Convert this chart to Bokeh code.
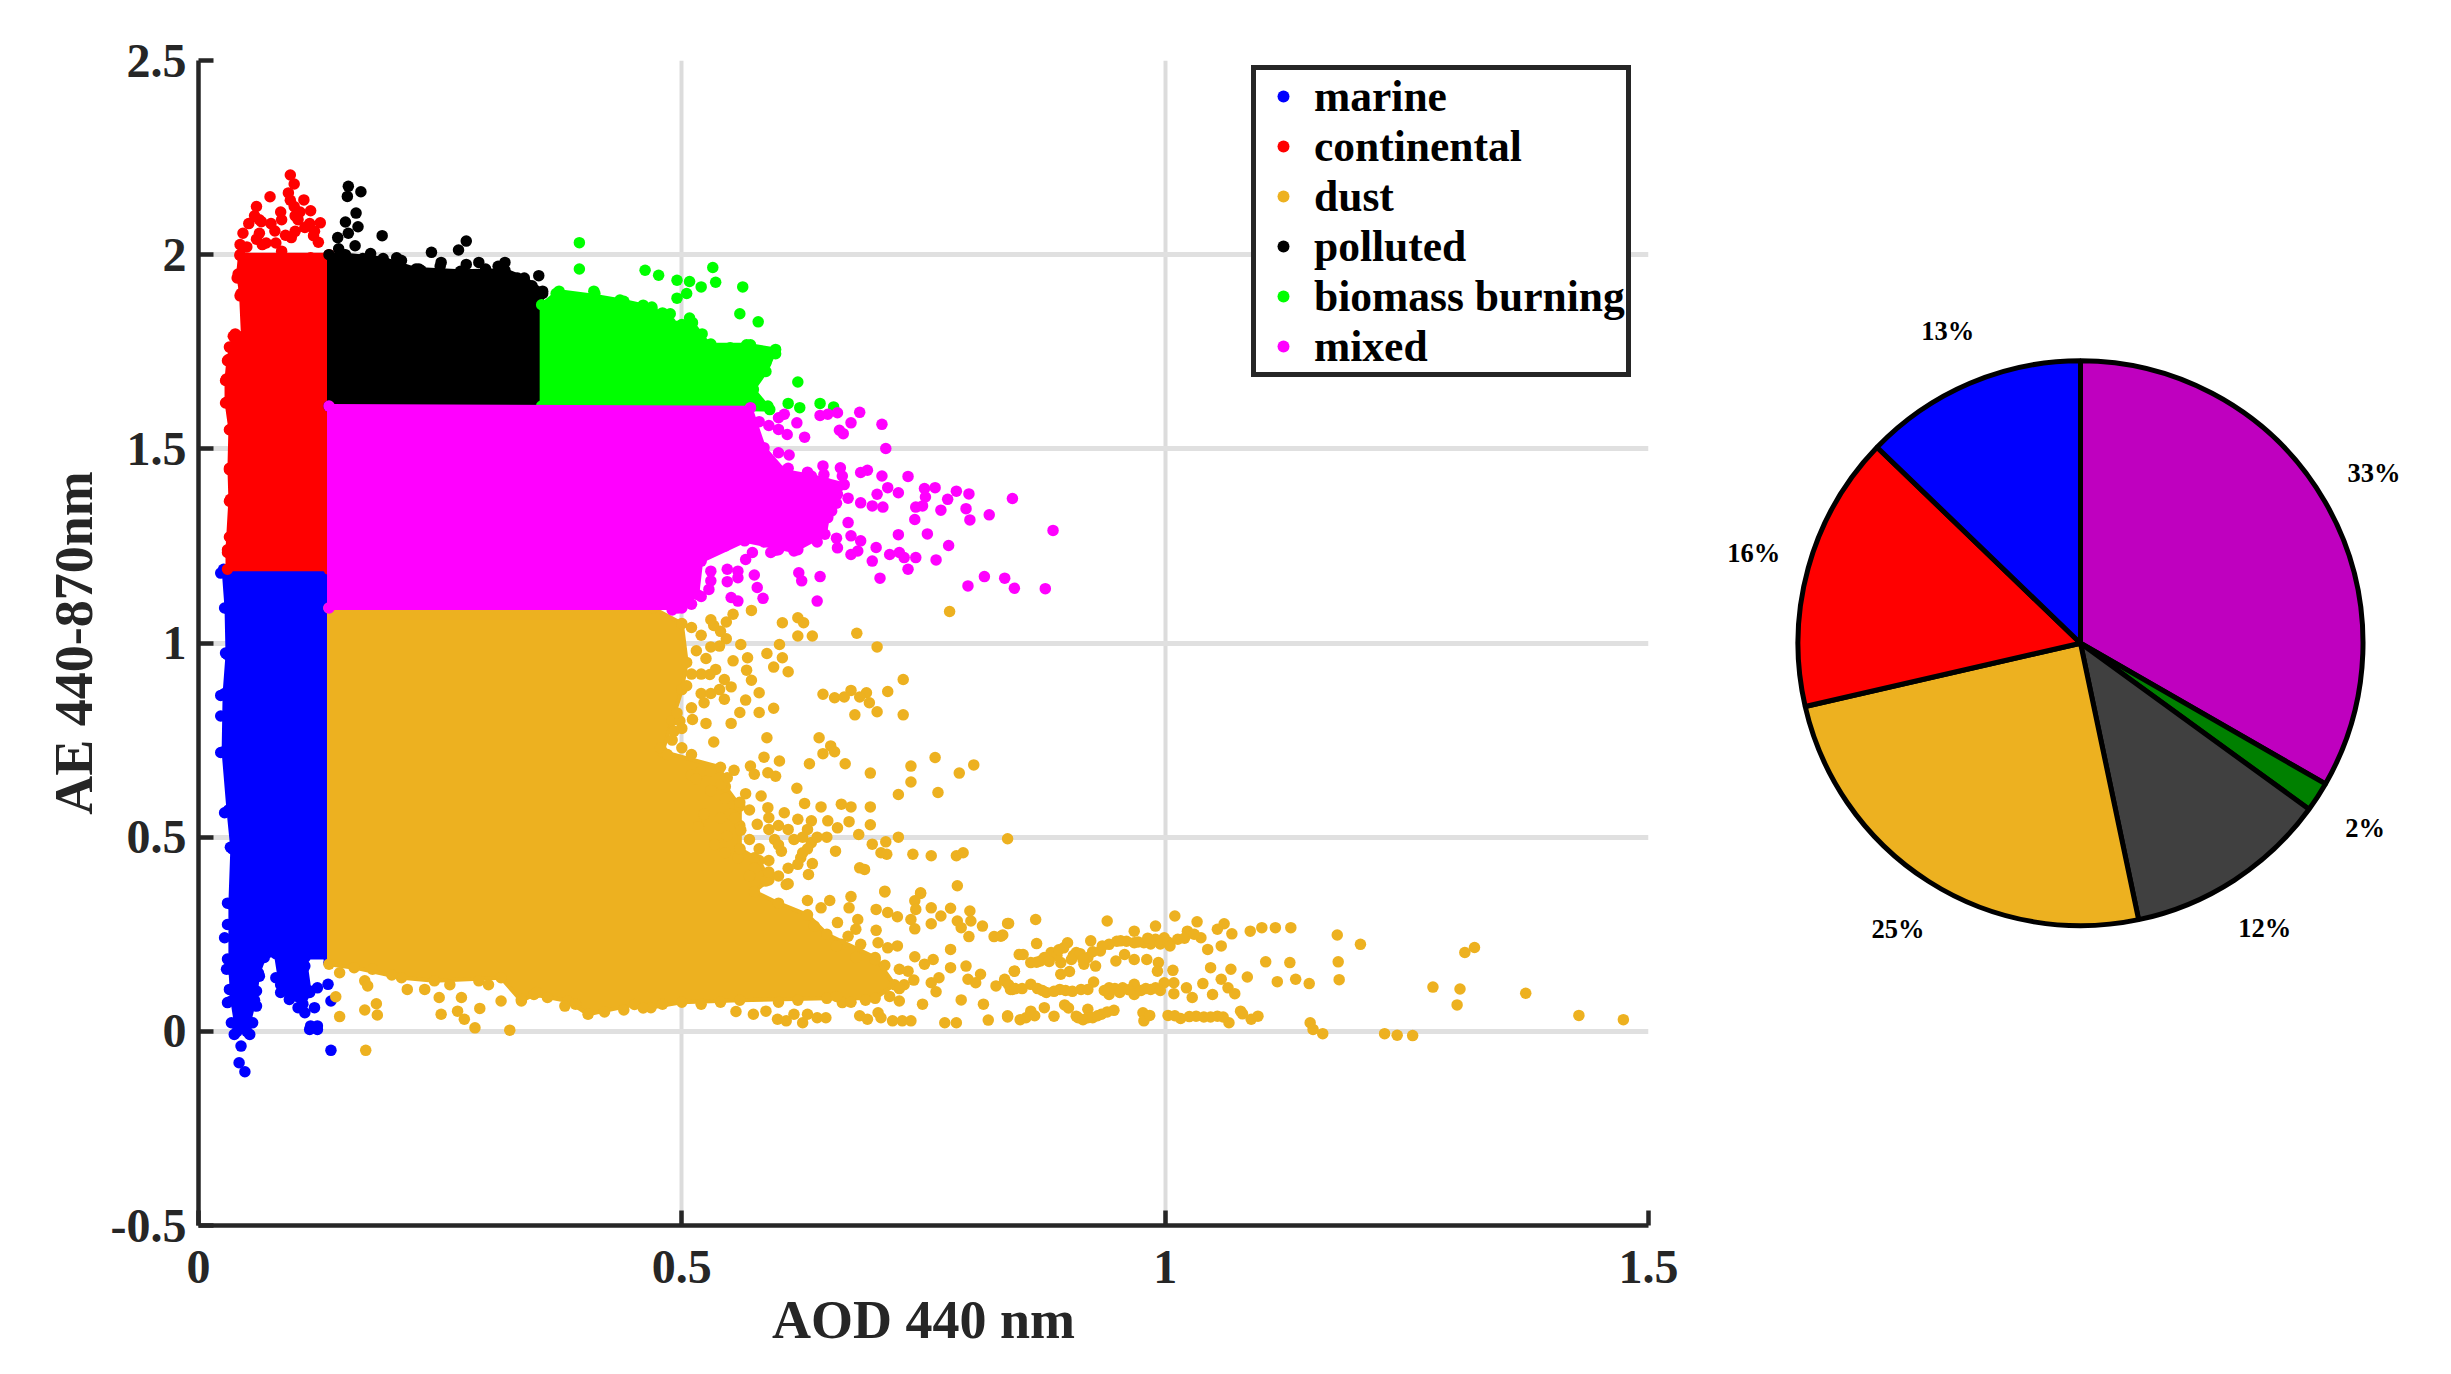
from bokeh.plotting import figure
from bokeh.layouts import row
from bokeh.models import Legend, LegendItem, FixedTicker, Range1d
from bokeh.core.properties import value
from bokeh.embed import file_html
from bokeh.resources import INLINE
import math

FONT = "Liberation Serif"

class_names = ["marine", "continental", "dust", "polluted", "biomass burning", "mixed"]
class_colors = ["#0000FF", "#FF0000", "#EDB120", "#000000", "#00FF00", "#FF00FF"]
pie_shares = [33.3, 1.7, 11.7, 24.7, 15.8, 12.8]
pie_labels = ["33%", "2%", "12%", "25%", "16%", "13%"]
pie_colors = ["#BF00BF", "#008000", "#404040", "#EDB120", "#FF0000", "#0000FF"]
x_ticks = [0, 0.5, 1, 1.5]
x_tick_labels = ["0", "0.5", "1", "1.5"]
y_ticks = [-0.5, 0, 0.5, 1, 1.5, 2, 2.5]
y_tick_labels = ["-0.5", "0", "0.5", "1", "1.5", "2", "2.5"]

# Outlines of the solid part of each cloud (AOD, AE)
marine_cloud = [(.135,1.19),(.026,1.19),(.029,1.09),(.030,.97),(.027,.87),(.026,.72),(.031,.57),(.035,.47),
                (.033,.33),(.033,.16),(.035,.08),(.040,.0),(.05,.0),(.058,.08),(.062,.15),(.068,.19),(.080,.20),
                (.085,.12),(.095,.09),(.108,.07),(.115,.10),(.110,.19),(.135,.19)]
continental_cloud = [(.030,1.19),(.030,1.24),(.033,1.37),(.032,1.45),(.033,1.55),(.029,1.62),(.029,1.68),(.031,1.73),
                     (.036,1.79),(.046,1.79),(.044,1.90),(.041,1.95),(.043,2.0),(.135,2.0),(.135,1.19)]
dust_cloud = [(.135,1.09),(.47,1.09),(.50,1.05),(.505,.95),(.50,.88),(.49,.80),(.48,.72),
              (.54,.68),(.545,.63),(.56,.58),(.56,.53),(.56,.47),(.58,.44),(.59,.39),
              (.575,.36),(.60,.33),(.63,.30),(.65,.25),(.70,.19),(.72,.12),(.70,.085),(.65,.085),(.56,.08),(.50,.075),
              (.468,.061),(.451,.069),(.403,.044),(.382,.078),(.347,.095),(.334,.078),(.313,.138),(.244,.130),
              (.210,.138),(.161,.164),(.135,.173)]
polluted_cloud = [(.135,1.61),(.355,1.61),(.355,1.87),(.356,1.906),(.337,1.94),(.317,1.96),(.271,1.957),(.225,1.963),
                  (.191,1.99),(.152,2.0),(.135,2.0)]
biomass_cloud = [(.355,1.61),(.591,1.601),(.574,1.653),(.587,1.699),(.597,1.756),(.567,1.768),(.528,1.768),(.511,1.825),
                 (.488,1.825),(.469,1.865),(.436,1.883),(.409,1.894),(.373,1.906),(.355,1.871)]
mixed_cloud = [(.135,1.61),(.571,1.606),(.585,1.503),(.606,1.443),(.634,1.43),(.668,1.408),(.661,1.383),(.651,1.323),
               (.648,1.28),(.616,1.237),(.565,1.263),(.52,1.211),(.516,1.125),(.496,1.09),(.135,1.09)]

# Separate dots (AOD, AE)
marine_dots = [(.048,-.104),(.042,-.081),(.044,-.038),(.037,-.008),(.053,-.008),(.034,.022),(.056,.022),(.030,.074),
               (.060,.065),(.032,.108),(.060,.104),(.029,.160),(.063,.142),(.027,.241),(.030,.275),(.034,.327),
               (.080,.138),(.085,.100),(.094,.082),(.103,.061),(.110,.048),(.120,.061),(.116,.014),(.123,.014),
               (.115,.005),(.123,.005),(.137,-.049),(.137,.078),(.134,.121),(.123,.112),(.115,.104),(.108,.142),
               (.135,.177),(.139,.224),(.110,.168),(.023,1.18),(.027,1.09),(.028,.974),(.023,.865),(.023,.812),
               (.023,.718),(.027,.563),(.033,.474),(.030,.330),(.030,.186)]
continental_dots = [(.095,2.205),(.099,2.182),(.074,2.149),(.060,2.124),(.093,2.159),(.109,2.141),(.099,2.124),(.063,2.090),
                    (.116,2.113),(.126,2.082),(.119,2.049),(.086,2.090),(.103,2.090),(.046,2.055),(.063,2.055),(.079,2.061),
                    (.096,2.044),(.043,2.026),(.124,2.032),(.066,2.026),(.043,1.998),(.086,2.009),(.116,1.992),(.135,1.988),
                    (.038,1.796),(.032,1.762),(.030,1.727),(.028,1.676),(.028,1.618),(.032,1.549),(.032,1.446),(.032,1.365),
                    (.032,1.273),(.030,1.233),(.040,1.940),(.043,1.894),
                    (.05,2.02),(.06,2.04),(.07,2.03),(.08,2.03),(.09,2.05),(.10,2.06),(.11,2.07),(.12,2.06),(.10,2.10),
                    (.075,2.08),(.085,2.11),(.105,2.11),(.115,2.08),(.095,2.14),(.052,2.08),(.058,2.10),(.065,2.085)]
dust_dots = [(.777,1.081),(.681,1.025),(.702,.990),(.729,.906),(.713,.875),(.729,.815),(.702,.823),(.679,.815),(.646,.868),
             (.658,.859),(.675,.878),(.691,.872),(.694,.846),(.684,.861),(.668,.861),(.642,.756),(.654,.735),(.646,.715),
             (.658,.720),(.669,.689),(.632,.689),(.762,.705),(.737,.683),(.802,.686),(.787,.665),(.695,.665),(.737,.642),
             (.724,.610),(.765,.615),(.619,.626),(.627,.587),(.695,.578),(.695,.532),(.673,.540),(.665,.585),(.675,.578),
             (.644,.578),(.651,.542),(.661,.524),(.634,.542),(.683,.507),(.724,.500),(.711,.488),(.697,.482),(.837,.496),
             (.706,.460),(.712,.456),(.739,.456),(.758,.452),(.784,.452),(.791,.460),(.659,.464),(.684,.421),(.689,.417),
             (.785,.375),(.710,.361),(.747,.357),
             (.572,1.084),(.553,1.074),(.546,1.054),(.533,1.045),(.604,1.052),(.620,1.065),(.626,1.052),(.620,1.018),
             (.635,1.018),(.561,.996),(.546,1.011),(.539,.992),(.601,.996),(.588,.973),(.604,.962),(.568,.962),(.553,.954),
             (.595,.938),(.610,.926),(.567,.930),(.572,.904),(.535,.932),(.529,.919),(.544,.906),(.551,.887),(.539,.880),
             (.544,.855),(.580,.872),(.566,.853),(.523,.846),(.510,.833),(.511,.803),(.560,.821),(.551,.793),(.580,.821),
             (.595,.832),(.525,.793),(.498,.799),(.492,.773),(.588,.756),(.533,.745),(.510,.713),(.585,.706),(.601,.696),
             (.571,.683),(.554,.672),(.575,.662),(.589,.666),(.597,.657),(.478,.730),(.485,.713),(.566,.612),(.582,.606),
             (.589,.576),(.606,.563),(.620,.546),(.541,.636),(.547,.653),(.523,.559),(.517,.527),(.561,.518),(.570,.494),
             (.547,.503),(.578,.533),(.596,.494),(.616,.494),(.634,.486),(.603,.464),(.623,.447),(.635,.432),(.631,.404),
             (.608,.378),(.587,.387),(.558,.447),(.575,.447),(.534,.481),
             (.146,.151),(.172,.130),(.175,.117),(.216,.108),(.234,.108),(.249,.087),(.251,.044),(.272,.087),(.268,.052),
             (.275,.031),(.291,.059),(.313,.078),(.334,.082),(.361,.087),(.379,.065),(.142,.089),(.146,.038),(.172,.055),
             (.184,.071),(.185,.042),(.286,.009),(.322,.003),(.173,-.049),
             (.556,.051),(.574,.044),(.587,.052),(.599,.031),(.608,.027),(.616,.044),(.625,.022),(.630,.044),(.640,.035),
             (.649,.035),(.666,.074),(.684,.040),(.692,.031),(.703,.048),(.706,.035),(.718,.027),(.728,.027),(.737,.027),
             (.725,.078),(.749,.070),(.772,.022),(.784,.022),(.789,.081),(.812,.070),(.817,.029),(.837,.040),
             (.675,.347),(.673,.318),(.710,.359),(.747,.355),(.741,.336),(.742,.314),(.778,.317),(.758,.318),(.768,.297),
             (.798,.310),(.799,.284),(.785,.284),(.789,.267),(.811,.271),(.837,.278),(.797,.244),(.823,.244),(.832,.248),
             (.701,.314),(.713,.306),(.723,.295),(.737,.288),(.741,.264),(.758,.277),(.653,.337),(.630,.337),(.644,.318),
             (.661,.280),(.637,.271),(.682,.288),(.680,.263),(.701,.260),(.672,.245),(.665,.224),(.685,.224),(.703,.228),
             (.723,.220),(.713,.215),(.778,.211),(.741,.192),(.760,.185),(.751,.173),(.778,.164),(.794,.168),(.734,.155),
             (.740,.132),(.766,.138),(.758,.125),(.763,.102),(.796,.134),(.809,.147),(.804,.125),(.825,.117),(.834,.134),
             (.844,.155),(.842,.108),(.849,.198),
             (.838,.278),(.866,.288),(.940,.284),(.830,.245),(.867,.226),(.853,.198),(.968,.258),(.990,.271),(1.010,.297),
             (1.033,.282),(1.061,.277),(1.054,.263),(1.069,.251),(1.088,.258),(1.100,.267),(1.114,.267),(1.130,.267),
             (1.178,.248),(1.202,.224),(1.179,.179),(1.104,.179),(1.129,.177),(1.180,.133),(1.116,.128),(1.135,.134),
             (1.149,.123),(1.085,.140),(1.047,.164),(1.068,.160),(1.058,.220),(1.044,.211),(1.037,.241),(1.023,.258),
             (1.013,.237),(.999,.241),(.990,.237),(.978,.228),(.968,.228),(.954,.233),(.942,.224),(.933,.207),(.923,.233),
             (.899,.228),(.908,.203),(.882,.203),(.871,.181),(.861,.177),(.892,.177),(.916,.173),(.928,.168),(.892,.147),
             (.901,.154),(.844,.155),(.949,.181),(.958,.198),(.968,.185),(.981,.185),(.993,.177),(.992,.155),(1.008,.157),
             (1.009,.125),(1.009,.097),(.834,.130),(.840,.108),(.861,.121),(.877,.100),(.891,.108),(.913,.108),(.926,.127),
             (.942,.112),(.942,.095),(.956,.112),(.968,.121),(.968,.095),(.985,.108),(.999,.125),(1.022,.112),(1.028,.087),
             (1.039,.123),(1.049,.095),(1.058,.134),(1.065,.112),(1.072,.097),
             (.837,.037),(.856,.035),(.861,.052),(.875,.061),(.885,.039),(.896,.068),(.908,.039),(.920,.057),(.920,.035),
             (.934,.044),(.947,.054),(.977,.048),(.978,.027),(.984,.041),(1.003,.041),(1.016,.033),(1.032,.039),(1.054,.039),
             (1.066,.022),(1.078,.052),(1.089,.031),(1.096,.039),(1.150,.022),(1.153,.005),(1.163,-.006),(1.227,-.006),
             (1.240,-.010),(1.256,-.011),(1.277,.114),(1.305,.109),(1.302,.068),(1.310,.203),(1.320,.216),(1.373,.098),
             (1.428,.041),(1.474,.030),
             (.838,.12),(.845,.11),(.852,.11),(.868,.11),(.873,.105),(.885,.103),(.897,.105),(.904,.103),(.92,.108),
             (.937,.105),(.948,.11),(.953,.10),(.962,.107),(.975,.105),(.98,.11),(.99,.112),(.995,.105),
             (.875,.19),(.888,.195),(.895,.215),(.905,.195),(.912,.20),(.92,.19),(.915,.185),(.925,.205),(.935,.22),
             (.903,.185),(.88,.18),(.867,.178),(.89,.21),
             (.95,.232),(.96,.232),(.972,.23),(.985,.225),(.995,.225),(1.003,.23),(.982,.24),(1.02,.24),(1.03,.25),(1.005,.22),
             (.91,.035),(.915,.03),(.925,.035),(.93,.04),(.94,.05),(.90,.06),(.865,.04),(.85,.03),(1.04,.037),(1.047,.037),
             (1.06,.037),(1.08,.045),(1.01,.04),(1.025,.038),
             (.66,.22),(.68,.19),(.70,.185),(.71,.17),(.725,.16),(.73,.12),(.725,.11),(.715,.09),(.69,.08),(.675,.075),(.66,.09),
             (.53,.62),(.545,.60),(.56,.59),(.57,.57),(.55,.56),(.59,.55),(.60,.53),(.59,.52),(.61,.52),(.63,.52),(.64,.50),
             (.65,.50),(.625,.50),(.60,.48),(.58,.47),(.56,.47),(.545,.46),(.59,.44),(.61,.42),(.60,.40),(.62,.43),(.625,.46),
             (.63,.47),(.575,.42),(.59,.41),(.61,.38),(.57,.40),(.555,.55),(.54,.55),(.51,.66),(.52,.67),(.53,.67),(.515,.65),
             (.505,.89),(.52,.87),(.53,.87),(.52,.92),(.51,.92),(.515,.98),(.525,.96),(.53,.99),(.52,1.02),(.51,1.04),(.53,1.06),
             (.54,1.03),(.495,.82),(.50,.78),(.49,.75),(.50,.73),
             (.2,.145),(.18,.16),(.26,.12),(.29,.13),(.30,.12),(.35,.10),(.39,.07),(.42,.05),(.44,.055),(.46,.06),(.48,.07),
             (.52,.07),(.54,.075),(.6,.075),(.62,.08)]
polluted_dots = [(.155,2.176),(.168,2.162),(.154,2.150),(.163,2.107),(.152,2.084),(.165,2.072),(.144,2.044),(.155,2.055),
                 (.162,2.023),(.190,2.049),(.277,2.035),(.269,2.012),(.241,2.006),(.317,1.980),(.251,1.980),(.352,1.946),
                 (.356,1.900),(.205,1.992),(.178,2.003),(.145,2.015),(.297,1.963),(.277,1.975),(.337,1.934),(.228,1.963),
                 (.15,2.0),(.17,1.99),(.19,1.985),(.21,1.985),(.23,1.96),(.25,1.97),(.29,1.98),(.31,1.97),(.33,1.94),(.345,1.92)]
biomass_dots = [(.394,2.031),(.394,1.963),(.462,1.960),(.476,1.947),(.495,1.934),(.508,1.931),(.520,1.917),(.532,1.967),
                (.535,1.929),(.563,1.917),(.560,1.848),(.579,1.827),(.505,1.900),(.495,1.888),(.488,1.848),(.508,1.837),
                (.495,1.796),(.521,1.796),(.409,1.906),(.376,1.894),(.393,1.865),(.432,1.871),(.469,1.860),(.455,1.848),
                (.548,1.756),(.571,1.768),(.597,1.745),(.587,1.722),(.581,1.710),(.620,1.672),(.610,1.617),(.622,1.606),
                (.643,1.617),(.657,1.608),(.589,1.610),
                (.37,1.90),(.39,1.87),(.41,1.90),(.42,1.85),(.44,1.88),(.46,1.87),(.48,1.85),(.50,1.82),(.51,1.80),(.53,1.77),
                (.55,1.76),(.585,1.75),(.575,1.70),(.57,1.66)]
mixed_dots = [(.684,1.594),(.661,1.593),(.651,1.589),(.643,1.586),(.606,1.589),(.619,1.567),(.675,1.567),(.707,1.563),
              (.663,1.548),(.667,1.539),(.609,1.537),(.627,1.530),(.711,1.501),(.611,1.484),(.646,1.456),(.664,1.451),
              (.647,1.434),(.666,1.430),(.685,1.439),(.692,1.445),(.707,1.430),(.734,1.429),(.713,1.400),(.724,1.387),
              (.702,1.383),(.751,1.398),(.762,1.400),(.784,1.391),(.797,1.384),(.752,1.376),(.775,1.370),(.842,1.372),
              (.672,1.373),(.685,1.361),(.697,1.353),(.708,1.350),(.742,1.350),(.749,1.353),(.768,1.342),(.794,1.346),
              (.818,1.330),(.741,1.318),(.798,1.317),(.672,1.310),(.724,1.279),(.754,1.281),(.884,1.290),(.776,1.251),
              (.675,1.276),(.685,1.263),(.701,1.246),(.682,1.237),(.697,1.211),(.675,1.228),(.661,1.245),(.715,1.228),
              (.725,1.233),(.730,1.220),(.742,1.220),(.763,1.214),(.734,1.190),(.705,1.167),(.643,1.171),(.621,1.181),
              (.624,1.160),(.575,1.175),(.578,1.143),(.584,1.115),(.551,1.117),(.558,1.108),(.640,1.108),(.796,1.147),
              (.813,1.171),(.834,1.167),(.844,1.141),(.876,1.140),(.592,1.233),(.597,1.239),(.566,1.215),(.573,1.233),
              (.547,1.190),(.558,1.185),(.558,1.168),(.547,1.158),(.530,1.185),(.528,1.138),
              (.60,1.49),(.58,1.48),(.59,1.47),(.61,1.45),(.63,1.44),(.65,1.41),(.66,1.36),(.655,1.34),(.645,1.30),(.66,1.27),
              (.64,1.26),(.62,1.24),(.60,1.24),(.585,1.26),(.545,1.25),(.52,1.22),(.53,1.16),(.52,1.12),(.50,1.09),(.51,1.10),
              (.49,1.085),(.60,1.58),(.59,1.56),(.58,1.57),(.60,1.55)]

clouds = [marine_cloud, continental_cloud, dust_cloud, polluted_cloud, biomass_cloud, mixed_cloud]
dots = [marine_dots, continental_dots, dust_dots, polluted_dots, biomass_dots, mixed_dots]
draw_order = [0, 1, 2, 3, 4, 5]

p = figure(width=1708, height=1370, output_backend="svg", toolbar_location=None,
           x_range=Range1d(0, 1.5), y_range=Range1d(-0.5, 2.5),
           min_border_left=198, min_border_right=60, min_border_top=60, min_border_bottom=145,
           background_fill_color="white", border_fill_color="white", outline_line_color=None)

renderers = {}
for i in draw_order:
    c = class_colors[i]
    p.patch([v[0] for v in clouds[i]], [v[1] for v in clouds[i]], fill_color=c, line_color=c, line_width=4)
    all_pts = clouds[i] + dots[i]
    renderers[i] = p.scatter([v[0] for v in all_pts], [v[1] for v in all_pts], size=11.5,
                             marker="circle", fill_color=c, line_color=None)

p.xaxis.ticker = FixedTicker(ticks=x_ticks)
p.yaxis.ticker = FixedTicker(ticks=y_ticks)
p.xaxis.major_label_overrides = dict(zip(x_ticks, x_tick_labels))
p.yaxis.major_label_overrides = dict(zip(y_ticks, y_tick_labels))
p.xaxis.axis_label = "AOD 440 nm"
p.yaxis.axis_label = "AE 440-870nm"
for ax in (p.xaxis[0], p.yaxis[0]):
    ax.axis_line_color = "#262626"
    ax.axis_line_width = 4.5
    ax.major_tick_line_color = "#262626"
    ax.major_tick_line_width = 4.5
    ax.major_tick_in = 15
    ax.major_tick_out = 0
    ax.minor_tick_line_color = None
    ax.major_label_text_font = FONT
    ax.major_label_text_font_style = "bold"
    ax.major_label_text_font_size = "48px"
    ax.major_label_text_color = "#262626"
    ax.axis_label_text_font = FONT
    ax.axis_label_text_font_style = "bold"
    ax.axis_label_text_font_size = "54px"
    ax.axis_label_text_color = "#262626"
p.xaxis.major_label_standoff = 25
p.yaxis.major_label_standoff = 12
p.xaxis.axis_label_standoff = 4
p.yaxis.axis_label_standoff = 4
p.xgrid.ticker = FixedTicker(ticks=x_ticks)
p.ygrid.ticker = FixedTicker(ticks=y_ticks)
p.xgrid.grid_line_color = "#dcdcdc"
p.xgrid.grid_line_width = 4
p.ygrid.grid_line_color = "#e0e0e0"
p.ygrid.grid_line_width = 5

legend = Legend(items=[LegendItem(label=class_names[i], renderers=[renderers[i]]) for i in range(6)],
                location=(1053, 848), orientation="vertical",
                border_line_color="#262626", border_line_width=5, border_line_alpha=1,
                background_fill_color="white", background_fill_alpha=1,
                label_text_font=FONT, label_text_font_style="bold", label_text_font_size="43.5px", label_text_color="black",
                label_text_line_height=1.0,
                padding=1, spacing=0, margin=0, glyph_width=52, glyph_height=30, label_height=44, label_standoff=5)
p.add_layout(legend, "center")

# Pie: one radius is one data unit; its frame lines up with the scatter's frame in the row
q = figure(width=735, height=1370, output_backend="svg", toolbar_location=None,
           x_axis_location=None, y_axis_location=None,
           x_range=Range1d(-372 / 282.5, 363 / 282.5), y_range=Range1d(-582.3 / 282.5, 582.7 / 282.5),
           min_border_left=0, min_border_right=0, min_border_top=60, min_border_bottom=145,
           outline_line_color=None, background_fill_color="white", border_fill_color="white")
q.grid.visible = False
total = sum(pie_shares)
a = math.pi / 2
for share, col, lab in zip(pie_shares, pie_colors, pie_labels):
    b = a - 2 * math.pi * share / total
    q.wedge([0], [0], radius=1, start_angle=b, end_angle=a, fill_color=col, line_color="black", line_width=5)
    mid = (a + b) / 2
    q.text([1.2 * math.cos(mid)], [1.2 * math.sin(mid)], text=[lab], text_font=value(FONT), text_font_style="bold",
           text_font_size="26.5px", text_color="black", text_align="center", text_baseline="middle")
    a = b

open("out.html", "w").write(file_html(row(p, q), INLINE))
